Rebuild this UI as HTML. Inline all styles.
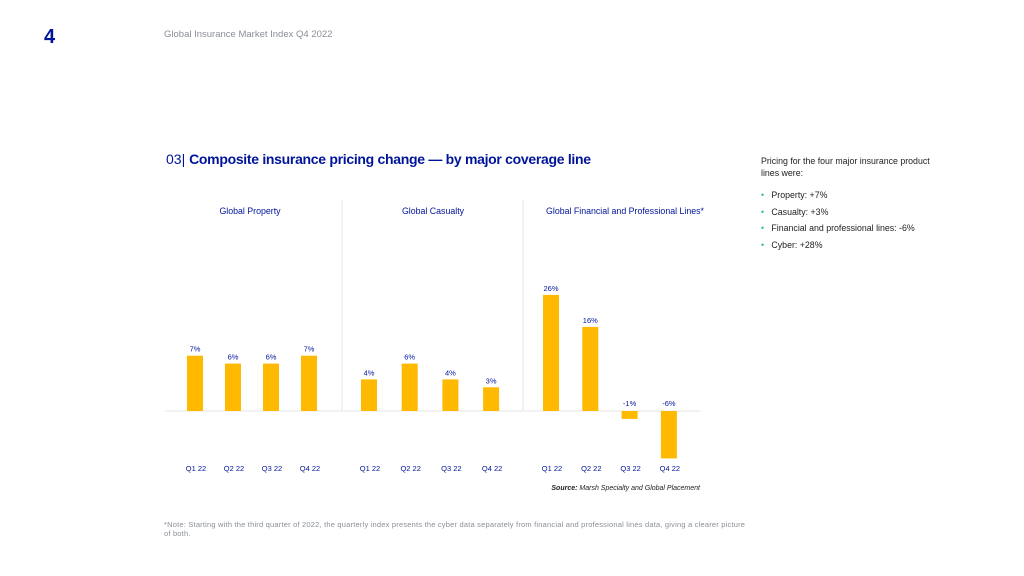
<!DOCTYPE html>
<html><head><meta charset="utf-8"><style>
body{margin:0;width:1024px;height:576px;background:#fff;position:relative;overflow:hidden;font-family:"Liberation Sans",sans-serif}
.a{position:absolute;white-space:nowrap}
</style></head><body>
<div class="a" style="left:44px;top:26px;font-size:20px;font-weight:bold;color:#00149a">4</div>
<div class="a" style="left:164px;top:29px;font-size:9.5px;color:#8a8f96">Global Insurance Market Index Q4 2022</div>
<div class="a" style="left:166px;top:151px;font-size:14px;color:#00149a"><span style="font-weight:normal">03|</span> <b style="letter-spacing:-0.3px">Composite insurance pricing change — by major coverage line</b></div>
<div class="a" style="left:761px;top:156px;font-size:8.8px;color:#222;line-height:11.5px;white-space:normal;width:186px">Pricing for the four major insurance product lines were:
<div style="margin-top:8px;line-height:16.5px">
<div><span style="color:#2bbf7f">•</span>&nbsp;&nbsp; Property: +7%</div>
<div><span style="color:#2bbf7f">•</span>&nbsp;&nbsp; Casualty: +3%</div>
<div><span style="color:#2bbf7f">•</span>&nbsp;&nbsp; Financial and professional lines: -6%</div>
<div><span style="color:#2bbf7f">•</span>&nbsp;&nbsp; Cyber: +28%</div>
</div></div>
<svg id="chart" width="1024" height="576" style="position:absolute;left:0;top:0" font-family="Liberation Sans, sans-serif"></svg>
<div class="a" style="left:164px;top:520px;font-size:7.5px;letter-spacing:0.2px;color:#8a8f96;line-height:9px">*Note: Starting with the third quarter of 2022, the quarterly index presents the cyber data separately from financial and professional lines data, giving a clearer picture<br>of both.</div>
<script>
const groups = ["Global Property","Global Casualty","Global Financial and Professional Lines*"];
const quarters = ["Q1 22","Q2 22","Q3 22","Q4 22"];
const propertyValues = [7,6,6,7];
const casualtyValues = [4,6,4,3];
const financialValues = [26,16,-1,-6];
const valueLabels = [["7%","6%","6%","7%"],["4%","6%","4%","3%"],["26%","16%","-1%","-6%"]];
const series = [propertyValues, casualtyValues, financialValues];

const svg = document.getElementById('chart');
const NS = 'http://www.w3.org/2000/svg';
const baseY = 411;
function yLen(v){ // piecewise axis (source chart compresses large values)
  const a = Math.abs(v);
  return a <= 7 ? a*7.9 : 7*7.9 + (a-7)*3.2;
}
const groupStart = [195, 369, 551];
const groupStep = [38, 40.7, 39.3];
function xPos(g,i){ return groupStart[g] + i*groupStep[g]; }
const titleX = [250, 433, 625];
function mk(tag, attrs){ const e=document.createElementNS(NS,tag); for(const k in attrs) e.setAttribute(k,attrs[k]); svg.appendChild(e); return e; }

let l = mk('line',{x1:165,x2:700,y1:baseY,y2:baseY,stroke:'#e6e6e6','stroke-width':1});


[342,523].forEach((x,k)=>{
  const d = mk('line',{x1:x,x2:x,y1:200,y2:410,stroke:'#e6e6e6','stroke-width':1});
  
  
});
groups.forEach((g,gi)=>{
  const t = mk('text',{x:titleX[gi],y:214,'text-anchor':'middle','font-size':8.8,fill:'#00149a'});
  t.textContent = g;
  
  
  series[gi].forEach((v,i)=>{
    const cx = xPos(gi,i), h = yLen(v);
    const y = v>=0 ? baseY-h : baseY;
    const r = mk('rect',{x:cx-8,y:y,width:16,height:Math.max(h,0.5),fill:'#ffb900'});
    
    
    const lblY = v>=0 ? baseY-h-4 : baseY-5;
    const vt = mk('text',{x:cx,y:lblY,'text-anchor':'middle','font-size':7.5,fill:'#00149a'});
    vt.textContent = valueLabels[gi][i];
    
    
    const q = mk('text',{x:cx+1,y:471,'text-anchor':'middle','font-size':7.5,fill:'#00149a'});
    q.textContent = quarters[i];
    
    
  });
});
const s = mk('text',{x:700,y:490,'text-anchor':'end','font-size':7,fill:'#222','font-style':'italic'});
s.innerHTML = '<tspan font-weight="bold">Source:</tspan> Marsh Specialty and Global Placement';


</script>
</body></html>
